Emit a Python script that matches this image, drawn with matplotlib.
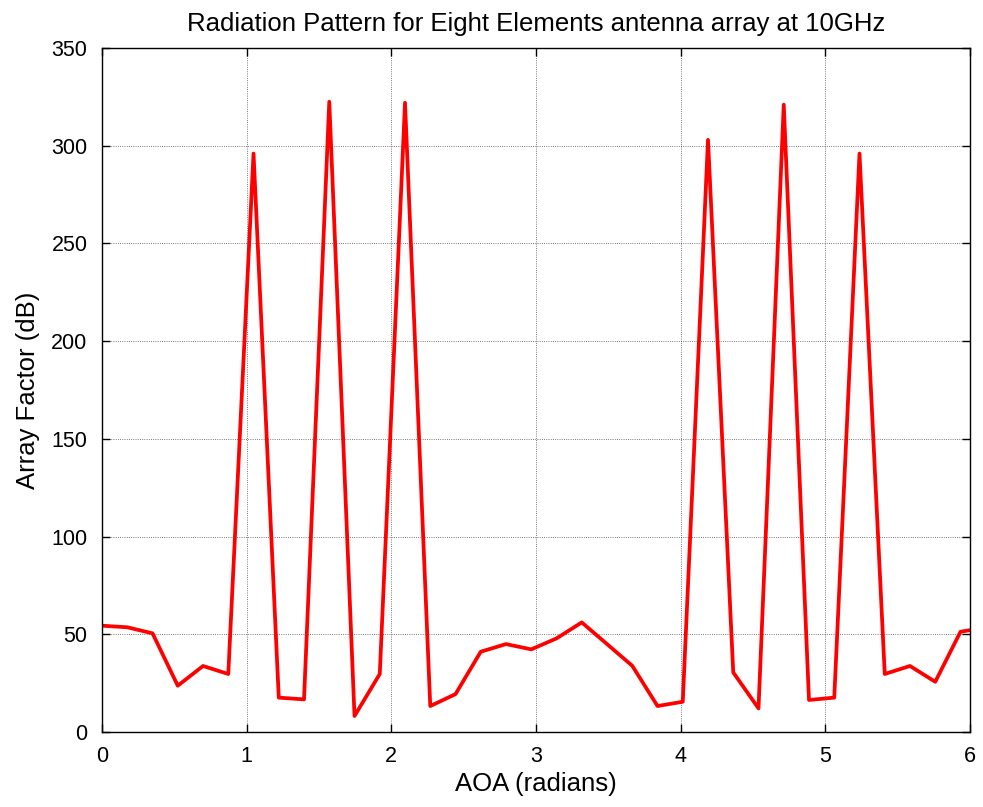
import numpy as np
import matplotlib.pyplot as plt

# angle grid in degrees (10 deg steps), converted to radians
aoa_deg = np.arange(0, 360, 10)
aoa = np.deg2rad(aoa_deg)
af = [54.4, 53.6, 50.5, 23.7, 33.8, 29.7, 296.0, 17.6, 16.7, 322.5,
      8.2, 29.7, 322.0, 13.3, 19.4, 41.1, 45.0, 42.3, 47.9, 56.1,
      45.0, 33.9, 13.3, 15.5, 303.0, 30.5, 12.1, 321.0, 16.4, 17.6,
      296.0, 29.7, 33.8, 25.7, 51.3, 53.5]

plt.rcParams['font.family'] = ['Liberation Sans', 'DejaVu Sans']

fig = plt.figure(figsize=(9.83, 8.07), dpi=100)
ax = fig.add_axes([0.1038, 0.0929, 0.8830, 0.8476])

ax.plot(aoa, af, color='red', linewidth=2.7)

ax.set_xlim(0, 6)
ax.set_ylim(0, 350)
ax.set_xticks(range(0, 7))
ax.set_yticks(range(0, 351, 50))
ax.grid(True, color='black', linestyle=':', linewidth=0.6, alpha=0.7)
ax.tick_params(direction='in', length=6, width=1, labelsize=15.5,
               top=True, right=True)
ax.tick_params(axis='y', pad=10.5)
ax.tick_params(axis='x', pad=10)
for s in ax.spines.values():
    s.set_linewidth(1.0)

ax.set_title('Radiation Pattern for Eight Elements antenna array at 10GHz',
             fontsize=18.5, pad=12)
ax.set_xlabel('AOA (radians)', fontsize=18.5, labelpad=4)
ax.set_ylabel('Array Factor (dB)', fontsize=18.5, labelpad=8)

fig.savefig('out.png', dpi=100)
